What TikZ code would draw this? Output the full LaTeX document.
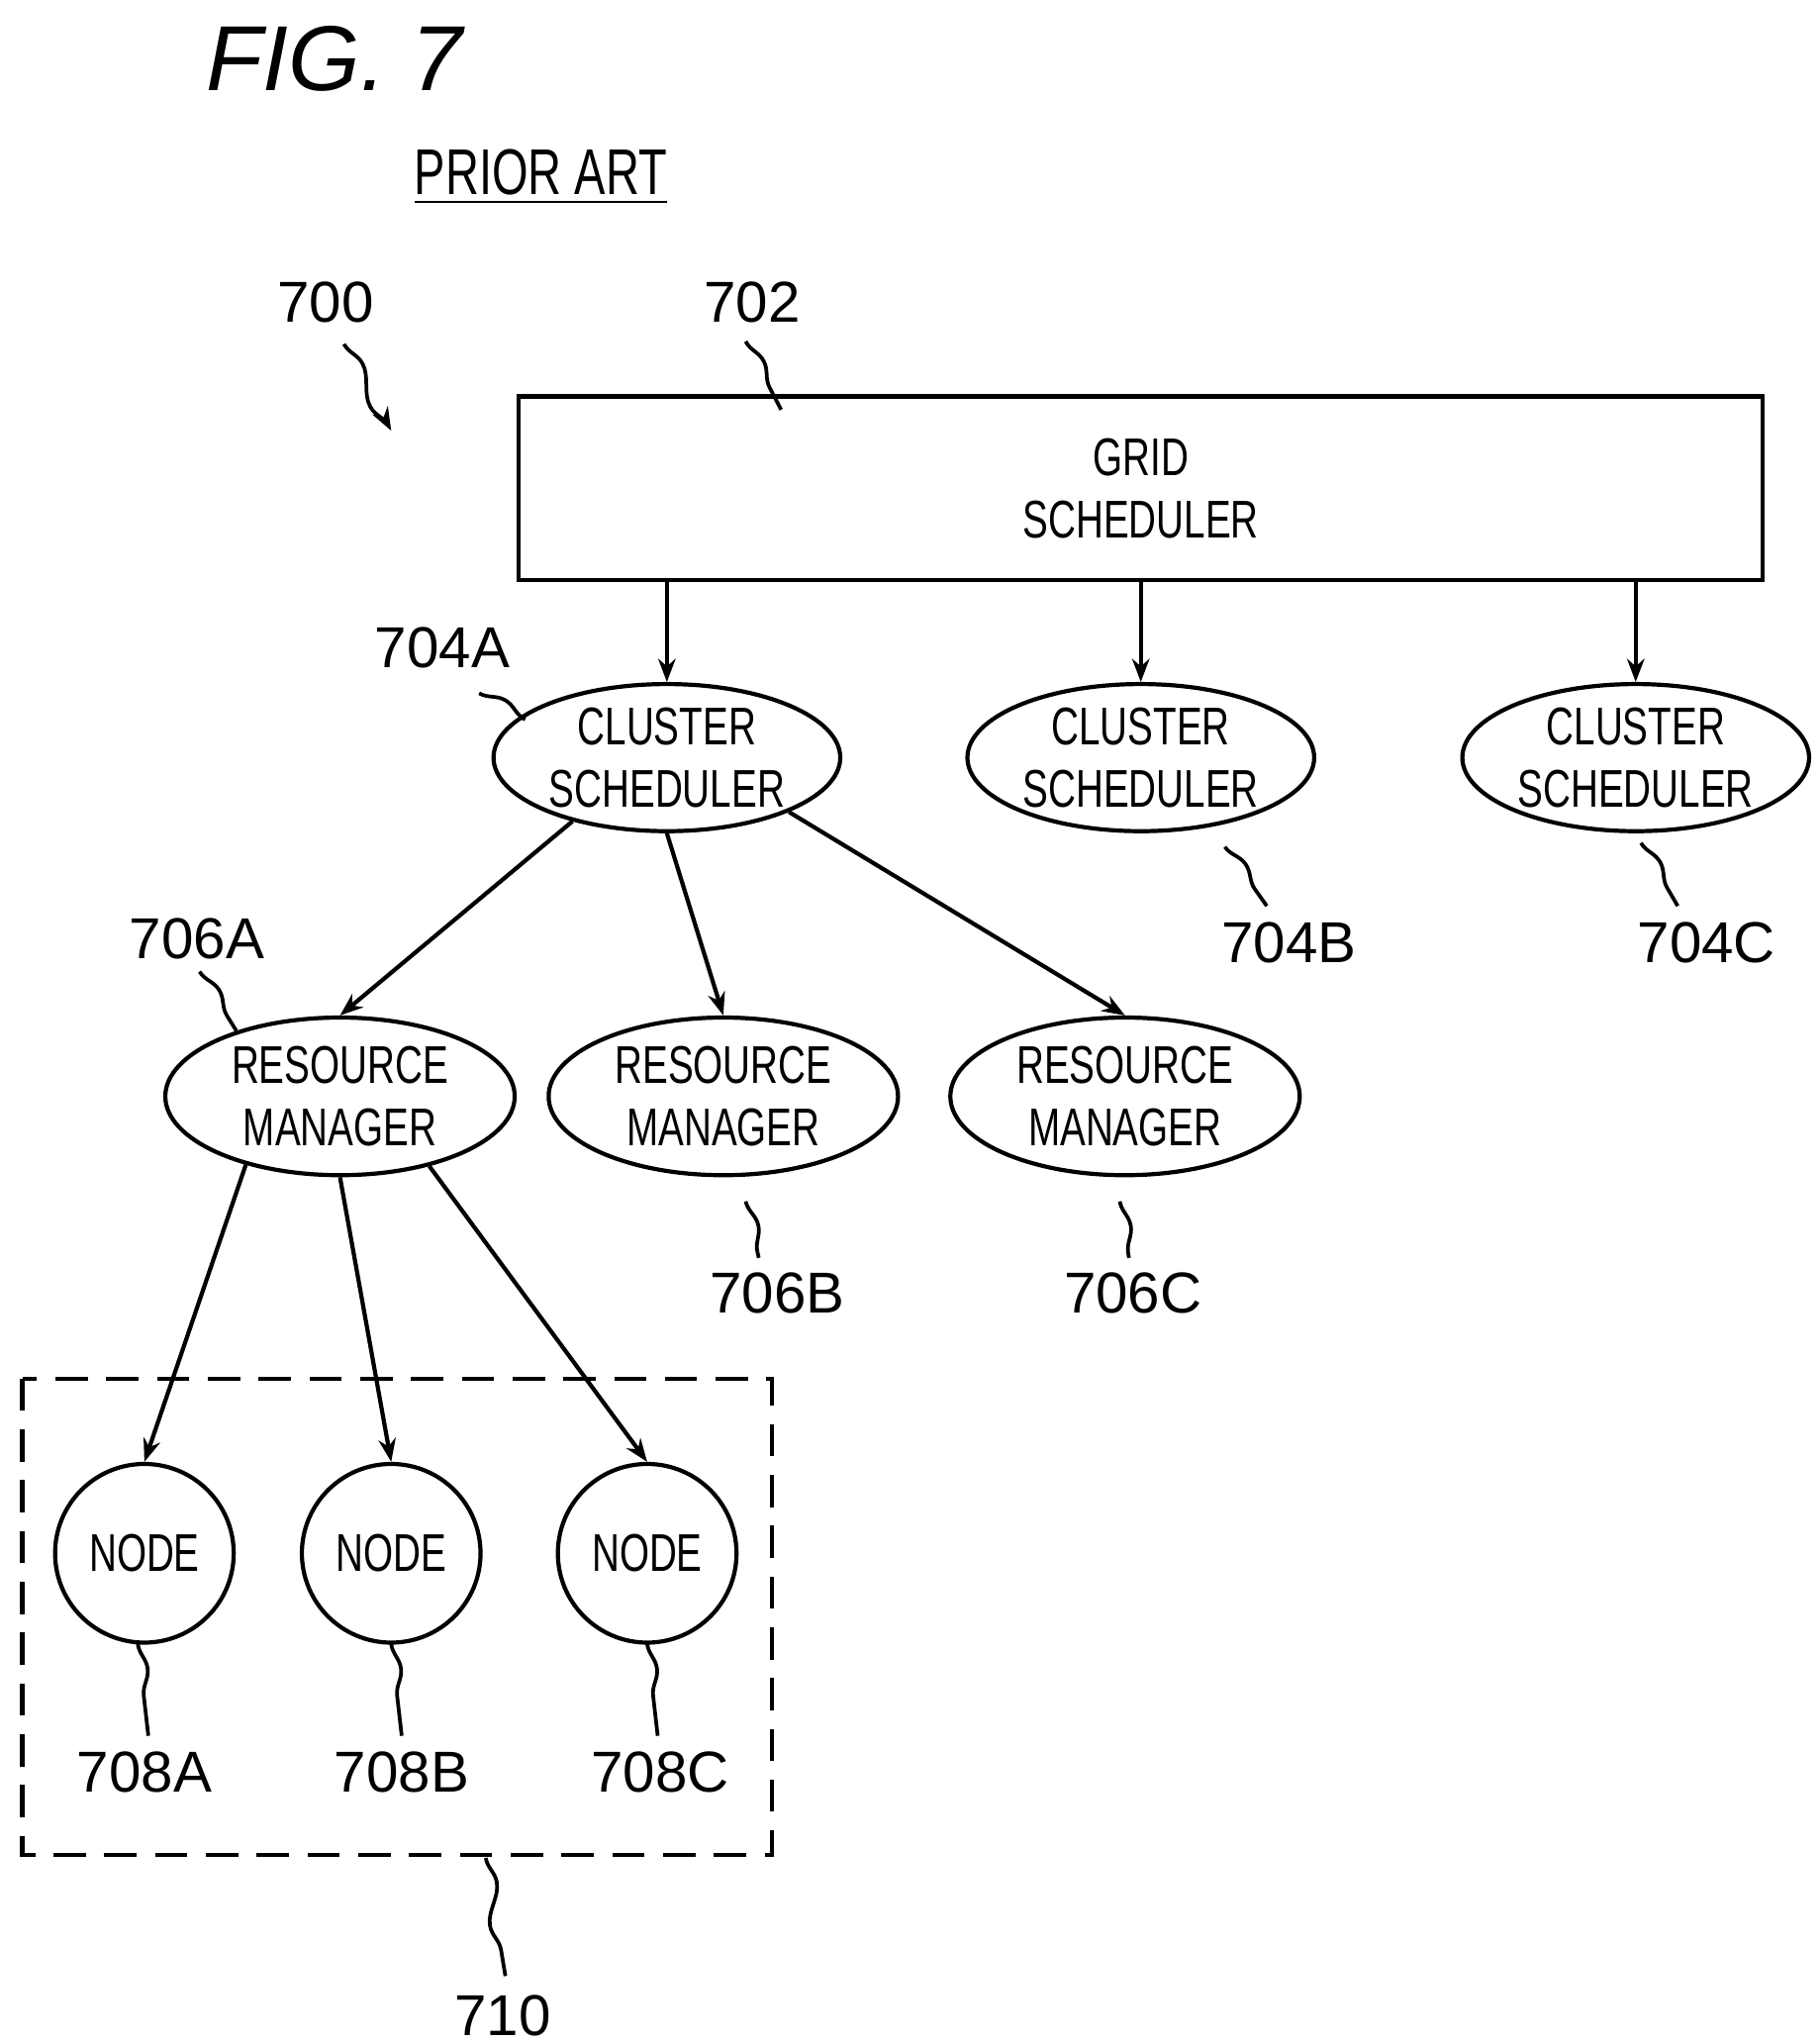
\documentclass[tikz,border=0pt]{standalone}
\usepackage{fontspec}
\setmainfont{Liberation Sans}
\newfontfamily\condfont{Liberation Sans}[FakeStretch=0.72]
\usetikzlibrary{shapes.geometric,decorations.pathmorphing,arrows.meta}
\begin{document}
\begin{tikzpicture}[x=0.01cm,y=-0.01cm,
  box/.style={draw,line width=0.9pt,font=\condfont\fontsize{11.5}{13.5}\selectfont},
  oval/.style={box,ellipse,inner sep=0pt},
  lbl/.style={font=\fontsize{12.5}{14}\selectfont},
  link/.style={draw,line width=0.9pt,-{Stealth[length=5pt]}},
  lead/.style={draw,line width=0.8pt,decorate,decoration={snake,amplitude=1.5pt,segment length=18pt}}]
\useasboundingbox (0,0) rectangle (1386,1556);
% titles
\node[font=\fontsize{20}{22}\selectfont\itshape] (fig) at (255,45) {FIG. 7};
\node[lbl,font=\condfont\fontsize{14}{16}\selectfont] (prior) at (412,135) {\underline{PRIOR ART}};
% grid scheduler
\node[box,align=center,minimum width=9.47cm,minimum height=1.4cm] (grid) at (869,372) {GRID\\SCHEDULER};
% cluster schedulers
\foreach \n/\x in {A/508,B/869,C/1246}
  \node[oval,minimum width=2.64cm,minimum height=1.12cm,align=center] (cs\n) at (\x,577) {CLUSTER\\SCHEDULER};
% resource managers
\foreach \n/\x in {A/259,B/551,C/857}
  \node[oval,minimum width=2.66cm,minimum height=1.2cm,align=center] (rm\n) at (\x,835) {RESOURCE\\MANAGER};
% nodes
\foreach \n/\x in {A/110,B/298,C/493}
  \node[oval,circle,minimum size=1.36cm] (nd\n) at (\x,1183) {NODE};
\draw[line width=0.9pt,dash pattern=on 7pt off 4pt] (17,1050) rectangle (588,1413);
% arrows
\foreach \n/\x in {A/508,B/869,C/1246}
  \draw[link] (grid.south -| cs\n) -- (cs\n);
\draw[link] (csA.-146) -- (rmA.north);
\draw[link] (csA.-90) -- (rmB.north);
\draw[link] (csA.-24) -- (rmC.north);
\draw[link] (rmA.-144) -- (ndA.north);
\draw[link] (rmA.-90) -- (ndB.north);
\draw[link] (rmA.-38) -- (ndC.north);
% reference labels
\node[lbl] (l700) at (248,230) {700};
\node[lbl] (l702) at (573,230) {702};
\node[lbl] (l704A) at (337,493) {704A};
\node[lbl] (l704B) at (982,718) {704B};
\node[lbl] (l704C) at (1300,718) {704C};
\node[lbl] (l706A) at (150,715) {706A};
\node[lbl] (l706B) at (592,985) {706B};
\node[lbl] (l706C) at (863,985) {706C};
\node[lbl] (l708A) at (110,1350) {708A};
\node[lbl] (l708B) at (306,1350) {708B};
\node[lbl] (l708C) at (503,1350) {708C};
\node[lbl] (l710) at (383,1535) {710};
\coordinate (p700) at (298,328);
\draw[lead,-{Stealth[length=5pt]}] (262,262) -- (p700);
\draw[lead] (568,260) -- (595,312);
\draw[lead] (365,528) -- (400,548);
\draw[lead] (933,645) -- (965,690);
\draw[lead] (1250,642) -- (1278,690);
\draw[lead] (152,740) -- (180,785);
\draw[lead] (568,915) -- (578,958);
\draw[lead] (853,915) -- (860,958);
\draw[lead] (105,1252) -- (113,1322);
\draw[lead] (298,1252) -- (306,1322);
\draw[lead] (493,1252) -- (501,1322);
\draw[lead] (370,1415) -- (385,1505);
\end{tikzpicture}
\end{document}
